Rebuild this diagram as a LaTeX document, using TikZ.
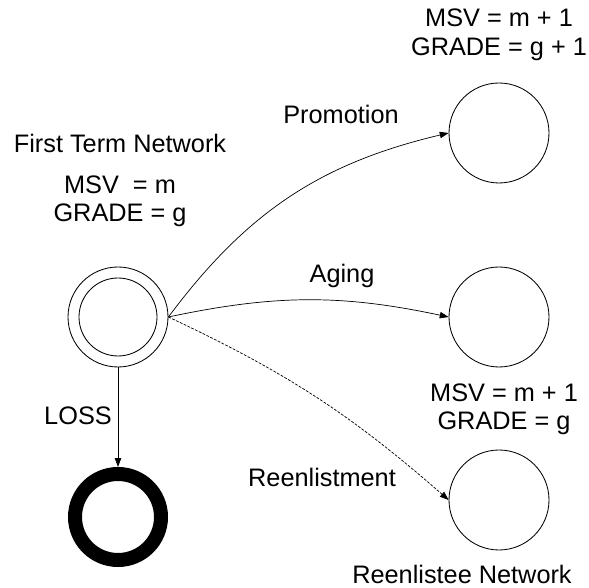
\documentclass[tikz,border=0pt]{standalone}
\usepackage{fontspec}
\setmainfont{Liberation Sans}
\usetikzlibrary{arrows.meta}

\tikzset{
	net/.style={circle, draw, inner sep=0pt, minimum size=2.5cm, line width=0.6pt},
	flow/.style={-{Triangle[length=2.2mm,width=1.6mm]}, line width=0.5pt},
	lbl/.style={font=\fontsize{18}{20}\selectfont, inner sep=0pt}
}

\begin{document}
\begin{tikzpicture}
	\useasboundingbox (0,0) rectangle (14.725,14.7);

	% states
	\node[net] (first) at (2.95,6.775) {};
	\node[net, minimum size=1.95cm] (firstin) at (first) {};
	\node[circle, draw, inner sep=0pt, minimum size=2.15cm, line width=0.35cm] (loss) at (2.95,1.775) {};
	\node[net] (promo) at (12.475,11.375) {};
	\node[net] (aging) at (12.475,6.775) {};
	\node[net] (reen) at (12.475,2.2) {};

	% transitions
	\draw [flow] (first.east) to[bend left=20] (promo.west);
	\draw [flow] (first.east) to[bend left=12] (aging.west);
	\draw [flow, dash pattern=on 2pt off 1pt] (first.east) to[bend left=8] (reen.west);
	\draw [flow] (first.south) -- (loss.north);

	% labels
	\node[lbl, anchor=base] (firstname) at (3.0,10.875) {First Term Network};
	\node[lbl, align=center] (firstval) at (3.0,9.6575) {MSV~~= m\\GRADE = g};
	\node[lbl, align=center] (promoval) at (12.475,13.83) {MSV = m + 1\\GRADE = g + 1};
	\node[lbl, align=center] (reenval) at (12.6,4.4575) {MSV = m + 1\\GRADE = g};
	\node[lbl, anchor=base] (promolbl) at (8.525,11.6) {Promotion};
	\node[lbl, anchor=base] (aginglbl) at (8.55,7.625) {Aging};
	\node[lbl, anchor=base] (losslbl) at (1.95,4.075) {LOSS};
	\node[lbl, anchor=base] (reenlbl) at (8.05,2.525) {Reenlistment};
	\node[lbl, anchor=base] (reenname) at (11.55,0.1) {Reenlistee Network};
\end{tikzpicture}
\end{document}
